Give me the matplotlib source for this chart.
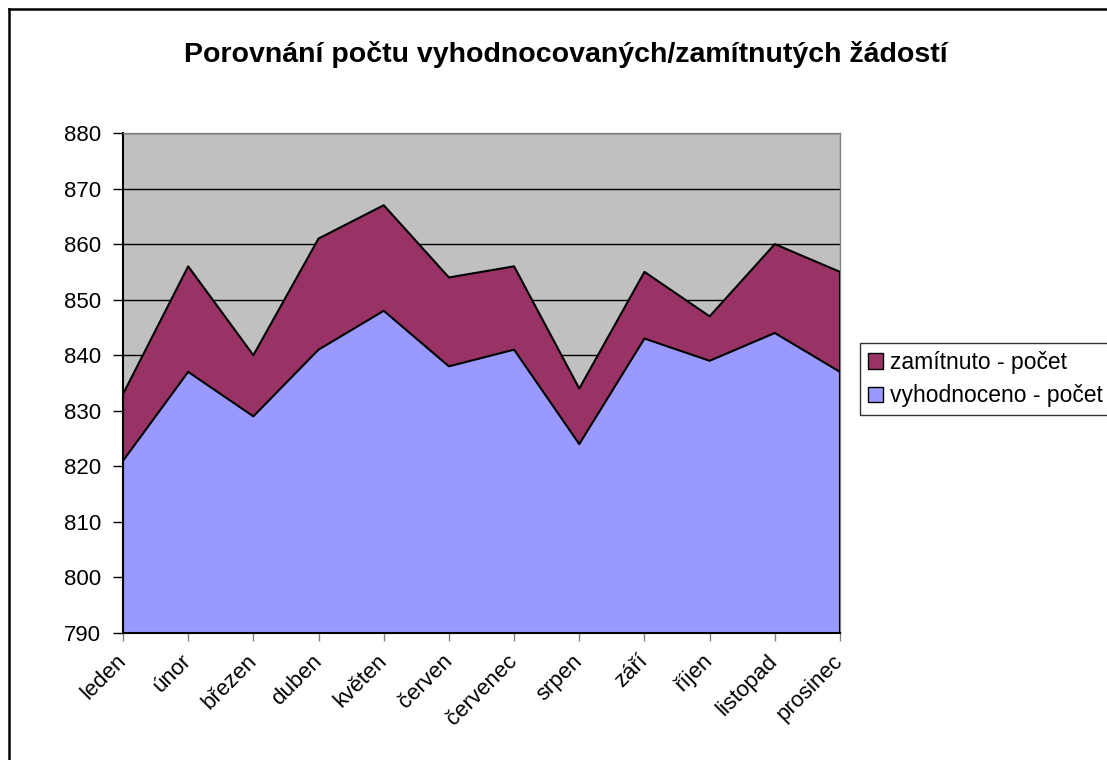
import matplotlib
matplotlib.use("Agg")
import matplotlib.pyplot as plt
import matplotlib.patches as patches
from matplotlib.lines import Line2D

plt.rcParams["font.family"] = ["Liberation Sans", "DejaVu Sans"]

months = ["leden", "únor", "březen", "duben", "květen", "červen",
          "červenec", "srpen", "září", "říjen", "listopad", "prosinec"]
vyhodnoceno = [821, 837, 829, 841, 848, 838, 841, 824, 843, 839, 844, 837]
zamitnuto = [12, 19, 11, 20, 19, 16, 15, 10, 12, 8, 16, 18]
series_labels = ["vyhodnoceno - počet", "zamítnuto - počet"]
title = "Porovnání počtu vyhodnocovaných/zamítnutých žádostí"

W, H = 1107, 760
fig = plt.figure(figsize=(W / 100, H / 100), dpi=100)
ax = fig.add_axes([123 / W, 1 - 633 / H, (840 - 123) / W, (633 - 133) / H])

x = list(range(len(months)))
total = [a + b for a, b in zip(vyhodnoceno, zamitnuto)]

ax.set_facecolor("#C0C0C0")
ax.fill_between(x, 790, vyhodnoceno, facecolor="#9999FF", edgecolor="none", zorder=2)
ax.fill_between(x, vyhodnoceno, total, facecolor="#993366", edgecolor="none", zorder=2)
ax.plot(x, vyhodnoceno, color="black", lw=1.5, zorder=3)
ax.plot(x, total, color="black", lw=1.5, zorder=3)

ax.set_xlim(0, len(months) - 1)
ax.set_ylim(790, 880)
ax.set_yticks(range(790, 881, 10))
ax.yaxis.grid(True, color="black", lw=1.0, zorder=1)
ax.set_axisbelow(True)
ax.set_xticks(x)
ax.set_xticklabels(months, rotation=45, ha="right", va="center", rotation_mode="anchor", fontsize=16)
ax.tick_params(axis="y", labelsize=16, length=7, width=1, direction="out", pad=9)
ax.tick_params(axis="x", length=6, width=1, direction="out", pad=12, color="#808080")
for side in ["top", "right"]:
    ax.spines[side].set_color("#808080")
    ax.spines[side].set_linewidth(1)
ax.spines["left"].set_linewidth(1.5)
ax.spines["bottom"].set_linewidth(1.5)
ax.vlines([0, len(months) - 1], 790, [vyhodnoceno[0], vyhodnoceno[-1]], color="black", lw=1.5, zorder=3)
ax.vlines([0, len(months) - 1], [vyhodnoceno[0], vyhodnoceno[-1]], [total[0], total[-1]], color="black", lw=1.5, zorder=3)

fig.text(566 / W, 1 - 55 / H, title, ha="center", va="center", fontsize=20.5, fontweight="bold")

handles = [patches.Patch(facecolor="#993366", edgecolor="black", label=series_labels[1]),
           patches.Patch(facecolor="#9999FF", edgecolor="black", label=series_labels[0])]
leg = fig.legend(handles=handles, loc="upper left", bbox_to_anchor=(860 / W, 1 - 343 / H),
                 fontsize=16.5, frameon=True, fancybox=False, edgecolor="black",
                 handlelength=0.65, handleheight=0.65, handletextpad=0.3, borderpad=0.35,
                 labelspacing=0.45, borderaxespad=0)
leg.get_frame().set_linewidth(1)

# outer chart frame: only left and top edges are inside the picture
fig.add_artist(Line2D([9 / W, 9 / W], [0, 1 - 9 / H], transform=fig.transFigure, color="black", lw=1.8))
fig.add_artist(Line2D([9 / W, 1], [1 - 9 / H, 1 - 9 / H], transform=fig.transFigure, color="black", lw=1.8))

fig.savefig("out.png", dpi=100)
